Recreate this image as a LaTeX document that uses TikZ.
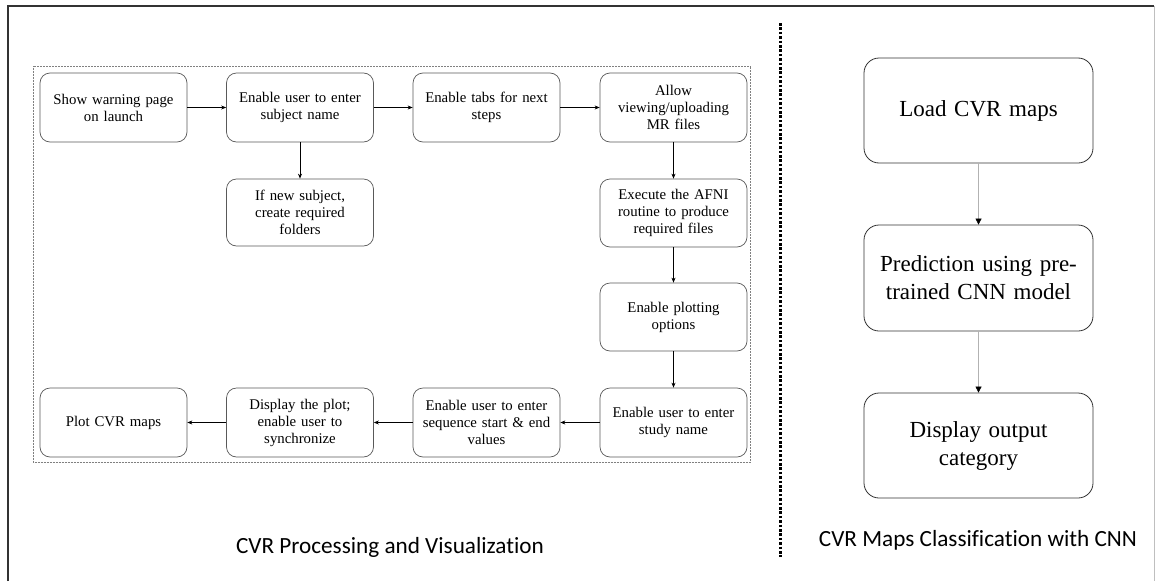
\documentclass[tikz,border=0pt]{standalone}
\usepackage{fontspec}
\setmainfont{Liberation Serif}
\newfontfamily\capfont[Ligatures=NoCommon]{Carlito}
\usetikzlibrary{arrows.meta}
\begin{document}
\begin{tikzpicture}[x=1pt,y=-1pt,
  stepbox/.style={draw=black!65, line width=0.7pt, rounded corners=10pt,
    minimum width=147pt, minimum height=69pt, align=center,
    inner sep=2pt, font=\fontsize{14.8}{17}\selectfont, text width=142pt},
  bigbox/.style={draw=black!80, line width=0.8pt, rounded corners=15pt,
    minimum width=229pt, minimum height=105pt, align=center,
    inner sep=2pt, font=\fontsize{23}{28}\selectfont, text width=220pt},
  flow/.style={-{Stealth[length=5pt,width=4pt]}, line width=0.8pt, black},
  thinflow/.style={draw=black!30, line width=0.6pt,
    -{Triangle[length=6pt,width=6pt,color=black]}},
  caption/.style={font=\capfont\fontsize{23.2}{26}\selectfont}
]
\useasboundingbox (0,0) rectangle (1156,581);
\fill[white] (0,0) rectangle (1156,581);

% outer frame
\draw[black!80, line width=1.4pt] (8,581) -- (8,6) -- (1154,6);
\draw[black!25, line width=0.8pt] (1154,6) -- (1154,581);

% dotted frame around the processing workflow
\draw[black!50, line width=0.5pt, densely dotted] (33,66) rectangle (750,462);

% separator between the two panels
\draw[black, line width=3pt, dash pattern=on 2.6pt off 1.8pt] (780,23) -- (780,557);

% processing workflow
\node[stepbox] (warn) at (113.5,107.5) {Show warning page\\on launch};
\node[stepbox] (subj) at (300,107.5) {Enable user to enter\\subject name};
\node[stepbox] (tabs) at (486.5,107.5) {Enable tabs for next\\steps};
\node[stepbox] (view) at (673.5,107.5) {Allow\\viewing/uploading\\MR files};
\node[stepbox, minimum height=67pt] (newsub) at (300,212.5) {If new subject,\\create required\\folders};
\node[stepbox, minimum height=68pt] (afni) at (673.5,213) {Execute the AFNI\\routine to produce\\required files};
\node[stepbox, minimum height=68pt] (plotopt) at (673.5,317) {Enable plotting\\options};
\node[stepbox] (study) at (673.5,422.5) {Enable user to enter\\study name};
\node[stepbox] (seq) at (486.5,422.5) {Enable user to enter\\sequence start \& end\\values};
\node[stepbox] (disp) at (300,422.5) {Display the plot;\\enable user to\\synchronize};
\node[stepbox] (plot) at (113.5,422.5) {Plot CVR maps};

\draw[flow] (warn) -- (subj);
\draw[flow] (subj) -- (tabs);
\draw[flow] (tabs) -- (view);
\draw[flow] (subj) -- (newsub);
\draw[flow] (view) -- (afni);
\draw[flow] (afni) -- (plotopt);
\draw[flow] (plotopt) -- (study);
\draw[flow] (study) -- (seq);
\draw[flow] (seq) -- (disp);
\draw[flow] (disp) -- (plot);

% classification workflow
\node[bigbox] (load) at (978.5,110.5) {Load CVR maps};
\node[bigbox, minimum height=106pt] (pred) at (978.5,278) {Prediction using pre-\\trained CNN model};
\node[bigbox] (out) at (978.5,445.5) {Display output\\category};

\draw[thinflow] (load) -- (pred);
\draw[thinflow] (pred) -- (out);

% panel captions
\node[caption] (capl) at (390,547) {CVR Processing and Visualization};
\node[caption] (capr) at (978,540) {CVR Maps Classification with CNN};
\end{tikzpicture}
\end{document}
